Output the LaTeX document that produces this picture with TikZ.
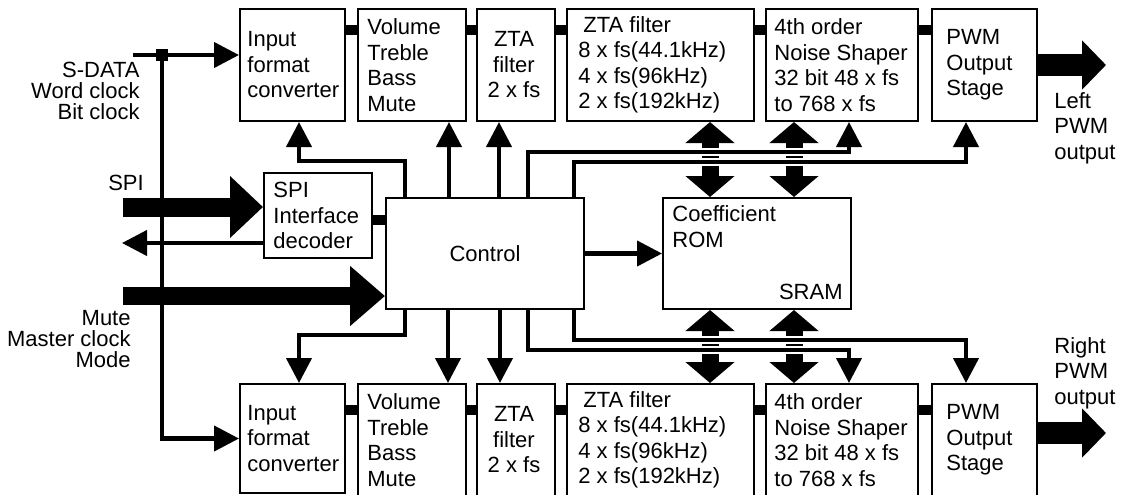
\documentclass[tikz,border=0pt]{standalone}
\usepackage{fontspec}
\setmainfont{Liberation Sans}
\usetikzlibrary{arrows.meta,calc,backgrounds}
\begin{document}
\begin{tikzpicture}[x=0.5pt,y=-0.5pt,
  box/.style={draw,line width=1pt,inner sep=0pt,anchor=north west,minimum height=56pt},
  txt/.style={font=\fontsize{11pt}{12.75pt}\selectfont,align=left,anchor=west,inner sep=0pt},
  lab/.style={font=\fontsize{11pt}{10.5pt}\selectfont,inner sep=0pt},
  bar/.style={line width=5pt},
  sig/.style={line width=2.1pt},
  arr/.style={sig,arrows={-Triangle[length=12.5pt,width=12.5pt]}},
  casing/.style={draw=white,line width=3.6pt},
  dbl/.style={line width=8.5pt,arrows={Triangle[length=10.5pt,width=24pt]-Triangle[length=10.5pt,width=24pt]}},
  bigspi/.style={line width=9.5pt,arrows={-Triangle[length=16.5pt,width=30pt]}},
  bigmute/.style={line width=9pt,arrows={-Triangle[length=17.5pt,width=29pt]}},
  bigout/.style={line width=11pt,arrows={-Triangle[length=12pt,width=24pt]}}]
\useasboundingbox (0,0) rectangle (1124,494);

% top row
\node[box,minimum width=52.5pt] (in1) at (239,8) {};
\node[box,minimum width=54pt] (vol1) at (357,8) {};
\node[box,minimum width=39pt] (zta1) at (476,8) {};
\node[box,minimum width=93.5pt] (zf1) at (566,8) {};
\node[box,minimum width=76pt] (ns1) at (765,8) {};
\node[box,minimum width=52.5pt] (pwm1) at (931,8) {};
% bottom row
\node[box,minimum width=52.5pt,minimum height=54.5pt] (in2) at (239,383) {};
\node[box,minimum width=54pt] (vol2) at (357,383) {};
\node[box,minimum width=39pt] (zta2) at (476,383) {};
\node[box,minimum width=93.5pt] (zf2) at (566,383) {};
\node[box,minimum width=76pt] (ns2) at (765,383) {};
\node[box,minimum width=52.5pt] (pwm2) at (931,383) {};
% middle
\node[box,minimum width=54pt,minimum height=42.5pt] (spi) at (263,172) {};
\node[box,minimum width=99pt,minimum height=55.5pt,font=\fontsize{11pt}{12.75pt}\selectfont] (ctl) at (385,197) {Control};
\node[box,minimum width=94pt,minimum height=55.5pt] (rom) at (662,197) {};

% box texts
\foreach \r in {1,2}{
  \node[txt] (tin\r) at ($(in\r.west)+(8,0)$) {Input\\format\\converter};
  \node[txt] (tvol\r) at ($(vol\r.west)+(10,0)$) {Volume\\Treble\\Bass\\Mute};
  \node[txt,align=center,anchor=center] (tzta\r) at ($(zta\r.center)+(-2,0)$) {ZTA\\filter\\2 x fs};
  \node[txt] (tzf\r) at ($(zf\r.west)+(12,0)$) {\hspace{2.5pt}ZTA filter\\8 x fs(44.1kHz)\\4 x fs(96kHz)\\2 x fs(192kHz)};
  \node[txt] (tns\r) at ($(ns\r.west)+(9,0)$) {4th order\\Noise Shaper\\32 bit 48 x fs\\to 768 x fs};
  \node[txt] (tpwm\r) at ($(pwm\r.west)+(15,0)$) {PWM\\Output\\Stage};
}
\node[txt] (tspi) at ($(spi.west)+(10,0)$) {SPI\\Interface\\decoder};
\node[txt] (trom) at ($(rom.north west)+(10,29.5)$) {Coefficient\\ROM};
\node[txt,anchor=east] (tsram) at ($(rom.south east)+(-9,-18)$) {SRAM};

% outside labels
\node[lab,align=right,anchor=east] (lsdata) at (140,91) {S-DATA\\Word clock\\Bit clock};
\node[lab] (lspi) at (126,183) {SPI};
\node[lab,align=right,anchor=east] (lmute) at (131,339) {Mute\\Master clock\\Mode};
\node[txt] (lleft) at (1054,128) {Left\\PWM\\output};
\node[txt] (lright) at (1054,373) {Right\\PWM\\output};

% junction
\node[fill,inner sep=0pt,minimum size=6pt] (j) at (162,55) {};

% coordinates
\coordinate (s0) at (133,55);
\coordinate (sp0) at (123,207);
\coordinate (so0) at (122,243);
\coordinate (m0) at (123,296);
\coordinate (o1) at (1106,65);
\coordinate (o2) at (1106,433);
\coordinate (yK1) at (0,161);
\coordinate (yK2) at (0,335);
\coordinate (yA1) at (0,152);
\coordinate (yB1) at (0,162);
\coordinate (yA2) at (0,350);
\coordinate (yB2) at (0,340);
\coordinate (c1) at ($(ctl.north west)+(20,0)$);
\coordinate (c2) at ($(ctl.north west)+(64,0)$);
\coordinate (c3) at ($(ctl.north west)+(114,0)$);
\coordinate (a1) at ($(ctl.north west)+(143,0)$);
\coordinate (b1) at ($(ctl.north west)+(189,0)$);
\coordinate (c1b) at ($(ctl.south west)+(20,0)$);
\coordinate (c2b) at ($(ctl.south west)+(63,0)$);
\coordinate (c3b) at ($(ctl.south west)+(115,0)$);
\coordinate (a2) at ($(ctl.south west)+(143,0)$);
\coordinate (b2) at ($(ctl.south west)+(189,0)$);
\coordinate (k1) at ($(in1.south west)+(60,0)$);
\coordinate (k2) at ($(in2.north west)+(60,0)$);
\coordinate (na1) at ($(ns1.south west)+(84,0)$);
\coordinate (pb1) at ($(pwm1.south west)+(35,0)$);
\coordinate (na2) at ($(ns2.north west)+(84,0)$);
\coordinate (pb2) at ($(pwm2.north west)+(35,0)$);
\coordinate (d1) at ($(zf1.south west)+(144,0)$);
\coordinate (d2) at ($(ns1.south west)+(29,0)$);

\begin{scope}[on background layer]
  % bars between boxes
  \foreach \a/\b in {in1/vol1,vol1/zta1,zta1/zf1,zf1/ns1,ns1/pwm1}
    \draw[bar] ($(\a.north east)+(0,22)$) -- ($(\b.north west)+(0,22)$);
  \foreach \a/\b in {in2/vol2,vol2/zta2,zta2/zf2,zf2/ns2,ns2/pwm2}
    \draw[bar] ($(\a.north east)+(0,27)$) -- ($(\b.north west)+(0,27)$);
  \draw[bar] ($(spi.north east)+(0,48)$) -- ($(ctl.north west)+(0,23)$);

  % left inputs
  \draw[arr] (s0) -- (s0 -| in1.west);
  \draw[arr] (j) |- (in2.west);
  \draw[bigspi] (sp0) -- (sp0 -| spi.west);
  \draw[arr] (so0 -| spi.west) -- (so0);
  \draw[bigmute] (m0) -- (m0 -| ctl.west);

  % outputs
  \draw[bigout] (o1 -| pwm1.east) -- (o1);
  \draw[bigout] (o2 -| pwm2.east) -- (o2);

  % control to rom
  \draw[arr] (ctl.east) -- (rom.west);

  % control up
  \draw[arr] (c1) |- (k1 |- yK1) -- (k1);
  \draw[arr] (c2) -- (c2 |- vol1.south);
  \draw[arr] (c3) -- (c3 |- zta1.south);
  % control down
  \draw[arr] (c1b) |- (k2 |- yK2) -- (k2);
  \draw[arr] (c2b) -- (c2b |- vol2.north);
  \draw[arr] (c3b) -- (c3b |- zta2.north);

  % double arrows (memory)
  \draw[dbl] (d1) -- (d1 |- rom.north);
  \draw[dbl] (d2) -- (d2 |- rom.north);
  \draw[dbl] (d1 |- rom.south) -- (d1 |- zf2.north);
  \draw[dbl] (d2 |- rom.south) -- (d2 |- ns2.north);

  % casings
  \draw[casing] (a1 |- yA1) -- (na1 |- yA1);
  \draw[casing] (b1 |- yB1) -- (pb1 |- yB1);
  \draw[casing] (a2 |- yA2) -- (na2 |- yA2);
  \draw[casing] (b2 |- yB2) -- (pb2 |- yB2);

  % bus lines
  \draw[arr] (a1) |- (na1 |- yA1) -- (na1);
  \draw[arr] (b1) |- (pb1 |- yB1) -- (pb1);
  \draw[arr] (a2) |- (na2 |- yA2) -- (na2);
  \draw[arr] (b2) |- (pb2 |- yB2) -- (pb2);
\end{scope}
\end{tikzpicture}
\end{document}
